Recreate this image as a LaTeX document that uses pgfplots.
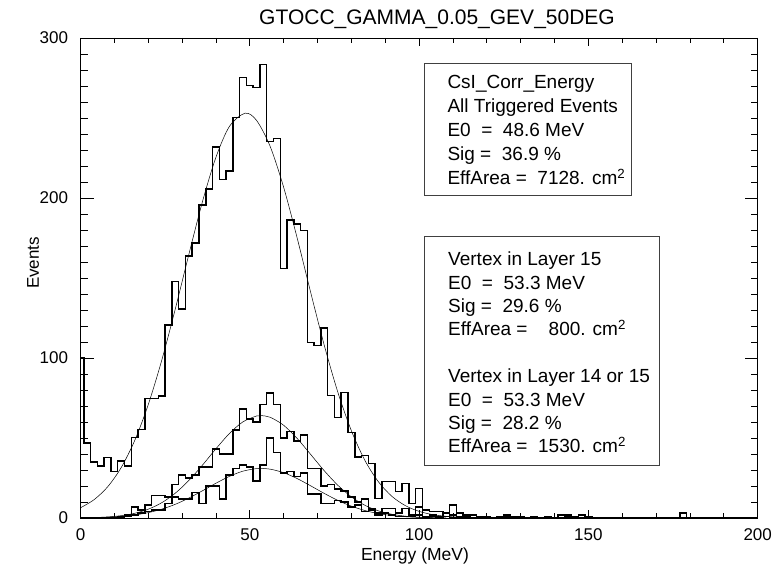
\documentclass[border=0pt]{standalone}
\usepackage{pgfplots}
\usepackage{pgfplotstable}
\pgfplotsset{compat=1.18}
\usepackage{fontspec}
\setmainfont{Liberation Sans}

\pgfplotstableread{
x h a b
0 100 0 0
2 47 0 0
4 35 0 0
6 32.5 0 0
8 37.7 0 0
10 29 0 0
12 35.6 1 0
14 32.5 2 1
16 50.4 7 2
18 55.4 5 3
20 74.8 8 4
22 74.8 14 5
24 76.4 14 5
26 120.6 13 9
28 147.7 21 13
30 130.6 27 12
32 163.8 25 12
34 172 27 16
36 195.6 32 9
38 205.6 32 20
40 232 43 20
42 211.7 40 12
44 216.9 40 27
46 250.2 55 31
48 275.2 68 33
50 270.2 62 32
52 269 60 23
54 283.5 71 33
56 235.2 78 50
58 237.3 71 41
60 156 50 28
62 186.3 54 29
64 183.8 48 26
66 179.6 52 28
68 109.8 31 15
70 107.7 31 15
72 118.9 20 9
74 76.5 21 9
76 62.7 18 11
78 78.3 17 10
80 53.5 13 7
82 38 10 8
84 39 12 4
86 34 6 5
88 12.3 3 2
90 22.7 6 3
92 22.7 6 2
94 16.5 3 1
96 21.7 6 1
98 9.2 2 1
100 18.5 7 2
102 5 1 0
104 4 2 1
106 4 1 0
108 3 3 1
110 8 2 0
112 3 1 0
114 2 1 0
116 2 0 0
118 1 1 0
120 1 0 0
122 0 0 0
124 1 0 0
126 2 1 0
128 1 0 0
130 1 0 0
132 0 0 0
134 1 0 0
136 0 0 0
138 1 0 0
140 0 0 0
142 2 0 0
144 2 1 0
146 1 0 0
148 2 0 0
150 1 0 0
152 0 0 0
154 0 0 0
156 0 0 0
158 0 0 0
160 0 0 0
162 0 0 0
164 0 0 0
166 0 0 0
168 0 0 0
170 0 0 0
172 0 0 0
174 0 0 0
176 0 0 0
178 3 0 0
180 0 0 0
182 0 0 0
184 0 0 0
186 0 0 0
188 0 0 0
190 0 0 0
192 0 0 0
194 0 0 0
196 0 0 0
198 0 0 0
200 0 0 0
}\histdata

\begin{document}
\begin{tikzpicture}[x=1pt,y=1pt]
\path[use as bounding box] (0,0) rectangle (775,571);
% axis with y ticks
\begin{axis}[at={(80.5pt,53pt)}, anchor=south west, scale only axis,
  width=677.2pt, height=480pt, xmin=0, xmax=200, ymin=0, ymax=300,
  xtick=\empty, ytick={0,100,200,300}, minor y tick num=9,
  tick align=inside, major tick length=13pt, minor tick length=7pt,
  ytick pos=both, axis line style={line width=0.8pt},
  every tick/.style={black, line width=0.8pt},
  /pgf/number format/assume math mode=true,
  yticklabel style={font=\fontsize{17}{20}\selectfont, xshift=-9pt}]
\end{axis}
% axis with data and x ticks
\begin{axis}[at={(80.5pt,53pt)}, anchor=south west, scale only axis,
  width=677.2pt, height=480pt, xmin=0, xmax=200, ymin=0, ymax=300,
  ytick=\empty, xtick={0,50,...,200}, minor x tick num=4,
  tick align=inside, major tick length=8pt, minor tick length=5pt,
  xtick pos=both, clip=false, axis line style={line width=0.8pt},
  every tick/.style={black, line width=0.8pt},
  /pgf/number format/assume math mode=true,
  xticklabel style={font=\fontsize{17}{20}\selectfont, yshift=-7pt}]
\addplot[black, line width=1.5pt, const plot mark mid] table[x=x,y=h] {\histdata};
\addplot[black, line width=1.5pt, const plot mark mid] table[x=x,y=a] {\histdata};
\addplot[black, line width=1.5pt, const plot mark mid] table[x=x,y=b] {\histdata};
\addplot[black, line width=0.5pt, smooth] coordinates {
(0,6.40)(4,11.44)(8,19.45)(12,31.45)(16,48.38)(20,70.82)(24,98.62)(28,130.68)
(32,164.74)(36,197.59)(40,225.47)(44,244.79)(48.6,253)(52,248.49)(56,232.33)
(60,206.67)(64,174.90)(68,140.82)(72,107.88)(76,78.62)(80,54.52)(84,35.97)
(88,22.58)(92,13.48)(96,7.66)(100,4.14)(104,2.13)(108,1.04)(112,0.49)(116,0.21)(120,0.09)};
\addplot[black, line width=0.5pt, smooth] coordinates {
(0,0.12)(4,0.30)(8,0.68)(12,1.47)(16,2.94)(20,5.49)(24,9.58)(28,15.52)(32,23.45)
(36,33.0)(40,43.27)(44,52.86)(48,60.15)(52,63.76)(53.3,64)(56,62.98)(60,57.95)
(64,49.68)(68,39.67)(72,29.51)(76,20.46)(80,13.21)(84,7.95)(88,4.46)(92,2.33)
(96,1.13)(100,0.51)(104,0.21)(108,0.08)};
\addplot[black, line width=0.5pt, smooth] coordinates {
(0,0.10)(4,0.24)(8,0.50)(12,1.01)(16,1.90)(20,3.35)(24,5.53)(28,8.57)(32,12.47)
(36,17.00)(40,21.73)(44,26.06)(48,29.30)(52,30.89)(53.3,31)(56,30.55)(60,28.33)
(64,24.63)(68,20.09)(72,15.36)(76,11.01)(80,7.41)(84,4.67)(88,2.76)(92,1.53)
(96,0.80)(100,0.39)(104,0.18)};
\end{axis}
% title and labels
\node[font=\fontsize{21}{24}\selectfont] at (437,552) {GTOCC\_GAMMA\_0.05\_GEV\_50DEG};
\node[font=\fontsize{17.5}{20}\selectfont] at (415,15) {Energy (MeV)};
\node[font=\fontsize{17}{20}\selectfont, rotate=90] at (33,308) {Events};
% box 1
\draw[black!75, line width=0.7pt] (424.3,571-63.3) rectangle (631.7,571-195.7);
\begin{scope}[every node/.style={anchor=base west, inner sep=0pt, font=\fontsize{19}{22}\selectfont}]
\node at (447.3,571-88.3) {CsI\_Corr\_Energy};
\node at (447.3,571-112.5) {All Triggered Events};
\node at (447.3,571-136.7) {E0 \ = \ 48.6 MeV};
\node at (447.3,571-160.8) {Sig = \ 36.9 \%};
\node at (447.3,571-185) {EffArea = \ 7128. cm\textsuperscript{2}};
% box 2
\node at (448,571-265.6) {Vertex in Layer 15};
\node at (448,571-289) {E0 \ = \ 53.3 MeV};
\node at (448,571-312.4) {Sig = \ 29.6 \%};
\node at (448,571-335.8) {EffArea = \ \ \ 800. cm\textsuperscript{2}};
\node at (448,571-382.6) {Vertex in Layer 14 or 15};
\node at (448,571-406) {E0 \ = \ 53.3 MeV};
\node at (448,571-429.3) {Sig = \ 28.2 \%};
\node at (448,571-452.7) {EffArea = \ 1530. cm\textsuperscript{2}};
\end{scope}
\draw[black!75, line width=0.7pt] (424.3,571-236.7) rectangle (659.3,571-465);
\end{tikzpicture}
\end{document}
